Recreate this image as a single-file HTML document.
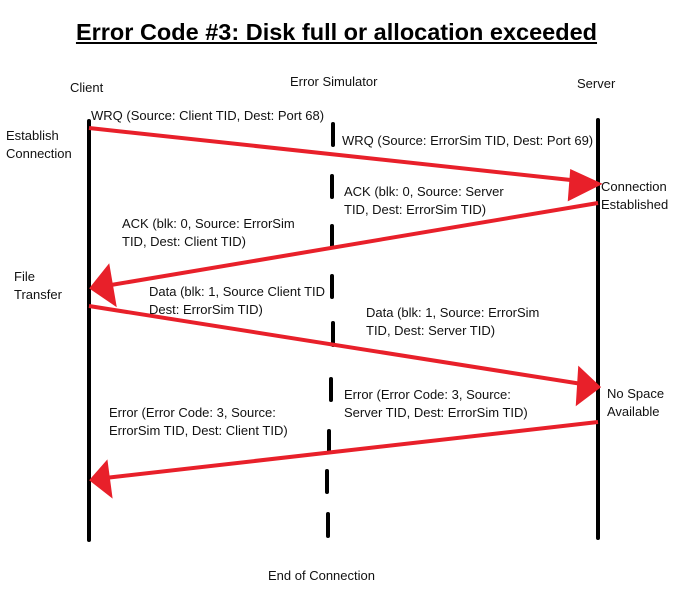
<!DOCTYPE html>
<html><head><style>
body{margin:0;width:673px;height:593px;background:#fff;overflow:hidden;position:relative;font-family:"Liberation Sans",sans-serif;}
.t{position:absolute;font-size:13px;color:#111;line-height:18px;white-space:nowrap;}
h1{position:absolute;left:0;width:673px;top:19px;margin:0;text-align:center;font-size:23.5px;font-weight:bold;text-decoration:underline;color:#000;}
</style></head><body>
<h1>Error Code #3: Disk full or allocation exceeded</h1>
<svg width="673" height="593" style="position:absolute;left:0;top:0">
<g stroke="#000" stroke-width="4" stroke-linecap="round">
<line x1="89" y1="121" x2="89" y2="540"/>
<line x1="598" y1="120" x2="598" y2="538"/>
<line x1="333" y1="124" x2="333" y2="145"/>
<line x1="332" y1="176" x2="332" y2="197"/>
<line x1="332" y1="226" x2="332" y2="247"/>
<line x1="332" y1="276" x2="332" y2="297"/>
<line x1="333" y1="323" x2="333" y2="345"/>
<line x1="331" y1="379" x2="331" y2="400"/>
<line x1="329" y1="431" x2="329" y2="452"/>
<line x1="327" y1="471" x2="327" y2="492"/>
<line x1="328" y1="514" x2="328" y2="536"/>
</g>
<g stroke="#e8202a" stroke-width="4" fill="#e8202a">
<line x1="89" y1="128" x2="580" y2="181"/>
<polygon points="598,184 572,172 570,198"/>
<line x1="598" y1="203" x2="105" y2="286"/>
<polygon points="92,288 108,268 114,303"/>
<line x1="89" y1="306" x2="582" y2="384"/>
<polygon points="598,387 580,370 578,402"/>
<line x1="598" y1="422" x2="105" y2="478"/>
<polygon points="92,480 106,464 110,494"/>
</g>
</svg>
<div class="t" style="left:70px;top:79px">Client</div>
<div class="t" style="left:290px;top:73px">Error Simulator</div>
<div class="t" style="left:577px;top:75px">Server</div>
<div class="t" style="left:91px;top:107px">WRQ (Source: Client TID, Dest: Port 68)</div>
<div class="t" style="left:6px;top:127px">Establish<br>Connection</div>
<div class="t" style="left:342px;top:132px">WRQ (Source: ErrorSim TID, Dest: Port 69)</div>
<div class="t" style="left:344px;top:183px">ACK (blk: 0, Source: Server<br>TID, Dest: ErrorSim TID)</div>
<div class="t" style="left:601px;top:178px">Connection<br>Established</div>
<div class="t" style="left:122px;top:215px">ACK (blk: 0, Source: ErrorSim<br>TID, Dest: Client TID)</div>
<div class="t" style="left:14px;top:268px">File<br>Transfer</div>
<div class="t" style="left:149px;top:283px">Data (blk: 1, Source Client TID<br>Dest: ErrorSim TID)</div>
<div class="t" style="left:366px;top:304px">Data (blk: 1, Source: ErrorSim<br>TID, Dest: Server TID)</div>
<div class="t" style="left:607px;top:385px">No Space<br>Available</div>
<div class="t" style="left:344px;top:386px">Error (Error Code: 3, Source:<br>Server TID, Dest: ErrorSim TID)</div>
<div class="t" style="left:109px;top:404px">Error (Error Code: 3, Source:<br>ErrorSim TID, Dest: Client TID)</div>
<div class="t" style="left:268px;top:567px">End of Connection</div>
</body></html>
